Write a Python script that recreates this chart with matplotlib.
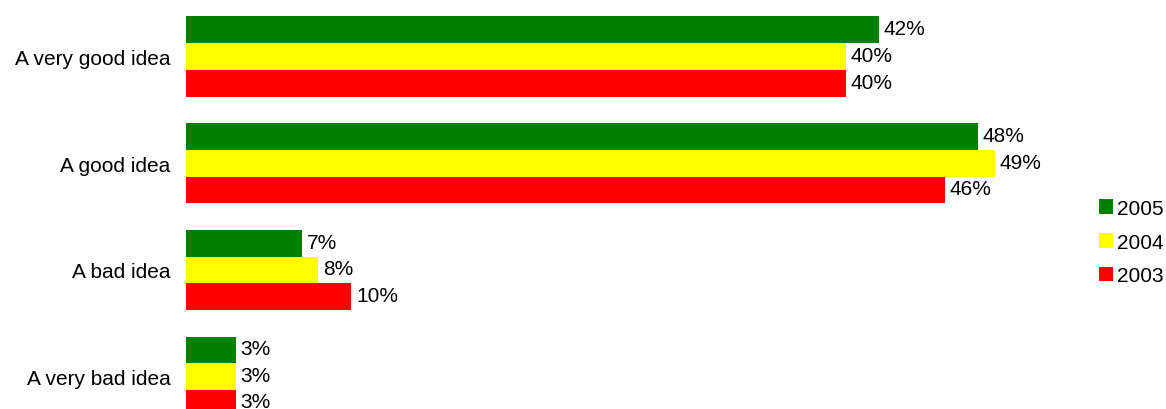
import matplotlib
matplotlib.use("Agg")
import matplotlib.pyplot as plt
import numpy as np

categories = ["A very good idea", "A good idea", "A bad idea", "A very bad idea"]
years = ["2005", "2004", "2003"]
values_2005 = [42, 48, 7, 3]
values_2004 = [40, 49, 8, 3]
values_2003 = [40, 46, 10, 3]
colors = ["#008000", "#ffff00", "#ff0000"]

plt.rcParams["font.family"] = ["Liberation Sans", "DejaVu Sans"]

W, H = 1166, 410
fig = plt.figure(figsize=(W / 100, H / 100), dpi=100)

# axes: x from pixel 186, 16.5 px per percent; group pitch ~106.7 px
left_px, right_px = 186, 1090
ax = fig.add_axes([left_px / W, 0, (right_px - left_px) / W, 1])
ax.set_xlim(0, (right_px - left_px) / 16.5)
pitch = 106.7
ax.set_ylim((H - 57.5) / pitch, -57.5 / pitch)

pos = np.arange(len(categories))
h = 0.25
series = [values_2005, values_2004, values_2003]
for k, (vals, yr, col) in enumerate(zip(series, years, colors)):
    ys = pos + (k - 1) * h
    ax.barh(ys, vals, height=h, color=col, label=yr)
    for y, v in zip(ys, vals):
        # nudge the lowest label up a bit so it is not clipped
        dy = 0.02 if y > 3.2 else 0.01
        ax.text(v + 0.3, y - dy, f"{v}%", va="center", ha="left",
                fontsize=15)

ax.set_yticks(pos)
ax.set_yticklabels(categories, fontsize=15)
ax.tick_params(axis="y", length=0, pad=11)
ax.set_xticks([])
for s in ax.spines.values():
    s.set_visible(False)

leg = fig.legend(loc="upper left", bbox_to_anchor=(1099 / W, 1 - 200 / H),
                 frameon=False, fontsize=15, handlelength=0.65,
                 handleheight=0.7, handletextpad=0.2, labelspacing=0.7,
                 borderaxespad=0, borderpad=0)

fig.savefig("out.png", dpi=100)
